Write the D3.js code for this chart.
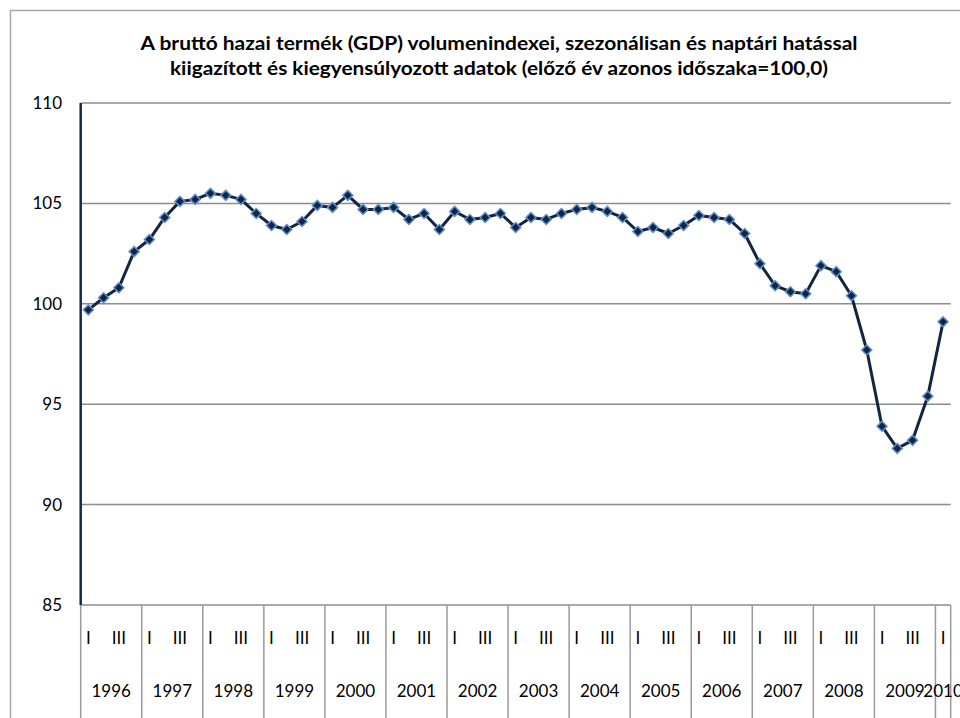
<!DOCTYPE html>
<html>
<head>
<meta charset="utf-8">
<script src="https://cdn.jsdelivr.net/npm/d3@7"></script>
<style>
  body { margin: 0; background: #fff; }
  svg { display: block; font-family: Lato, "Open Sans", sans-serif; }
</style>
</head>
<body>
<div id="chart"></div>
<script>
// chart data
const years = ['1996', '1997', '1998', '1999', '2000', '2001', '2002',
               '2003', '2004', '2005', '2006', '2007', '2008', '2009', '2010'];
const quarterNames = ['I', 'II', 'III', 'IV'];
const quarterShown = ['I', 'III'];
const values = [
    99.7, 100.3, 100.8, 102.6,   // 1996
    103.2, 104.3, 105.1, 105.2,  // 1997
    105.5, 105.4, 105.2, 104.5,  // 1998
    103.9, 103.7, 104.1, 104.9,  // 1999
    104.8, 105.4, 104.7, 104.7,  // 2000
    104.8, 104.2, 104.5, 103.7,  // 2001
    104.6, 104.2, 104.3, 104.5,  // 2002
    103.8, 104.3, 104.2, 104.5,  // 2003
    104.7, 104.8, 104.6, 104.3,  // 2004
    103.6, 103.8, 103.5, 103.9,  // 2005
    104.4, 104.3, 104.2, 103.5,  // 2006
    102.0, 100.9, 100.6, 100.5,  // 2007
    101.9, 101.6, 100.4, 97.7,   // 2008
    93.9, 92.8, 93.2, 95.4,      // 2009
    99.1                         // 2010
];
const yTicks = [85, 90, 95, 100, 105, 110];
const titleLines = [
    'A bruttó hazai termék (GDP) volumenindexei, szezonálisan és naptári hatással',
    'kiigazított és kiegyensúlyozott adatok (előző év azonos időszaka=100,0)'
];

// setup
const width = 960, height = 718;
const plot = { left: 80.7, right: 950.7, top: 103, bottom: 605 };

// one entry per quarter
const quarters = values.map((v, i) => ({
    key: i,
    year: years[Math.floor(i / 4)],
    q: quarterNames[i % 4],
    value: v
}));

const x = d3.scaleBand()
    .domain(quarters.map(d => d.key))
    .range([plot.left, plot.right])
    .padding(0);

const y = d3.scaleLinear()
    .domain([85, 110])
    .range([plot.bottom, plot.top]);

const svg = d3.select('#chart')
    .append('svg')
      .attr('width', width)
      .attr('height', height);

// outer chart frame
svg.append('rect')
    .attr('x', 10.5)
    .attr('y', 10.5)
    .attr('width', width + 20)
    .attr('height', height + 20)
    .style('fill', 'none')
    .style('stroke', '#a6a6a6')
    .style('stroke-width', 1.5);

// title
svg.selectAll('.title')
    .data(titleLines)
    .enter()
    .append('text')
      .attr('class', 'title')
      .attr('x', 499)
      .attr('y', (d, i) => 50 + i * 25)
      .attr('text-anchor', 'middle')
      .attr('textLength', (d, i) => i === 0 ? 717 : 658)
      .attr('lengthAdjust', 'spacingAndGlyphs')
      .style('font-size', '18.5px')
      .style('font-weight', 'bold')
      .style('fill', '#000')
      .text(d => d);

// horizontal gridlines
svg.selectAll('.grid')
    .data(yTicks)
    .enter()
    .append('line')
      .attr('class', 'grid')
      .attr('x1', plot.left)
      .attr('x2', plot.right)
      .attr('y1', d => y(d))
      .attr('y2', d => y(d))
      .style('stroke', '#8c8c8c')
      .style('stroke-width', 1.5);

// y tick labels
svg.selectAll('.ylabel')
    .data(yTicks)
    .enter()
    .append('text')
      .attr('class', 'ylabel')
      .attr('x', 62)
      .attr('y', d => y(d) + 6)
      .attr('text-anchor', 'end')
      .style('font-size', '17px')
      .style('fill', '#000')
      .text(d => d);

// year dividers below the plot (start of every year + right end)
const yearStarts = quarters.filter(d => d.q === 'I').map(d => x(d.key));
yearStarts.push(plot.right);

svg.selectAll('.divider')
    .data(yearStarts)
    .enter()
    .append('line')
      .attr('class', 'divider')
      .attr('x1', d => d)
      .attr('x2', d => d)
      .attr('y1', plot.bottom)
      .attr('y2', height)
      .style('stroke', '#9a9a9a')
      .style('stroke-width', 1.5);

// quarter labels, only I and III fit
svg.selectAll('.qlabel')
    .data(quarters.filter(d => quarterShown.includes(d.q)))
    .enter()
    .append('text')
      .attr('class', 'qlabel')
      .attr('x', d => x(d.key) + x.bandwidth() / 2)
      .attr('y', 644)
      .attr('text-anchor', 'middle')
      .style('font-size', '17px')
      .style('fill', '#000')
      .text(d => d.q);

// year labels centred in their span
const yearGroups = d3.groups(quarters, d => d.year);
svg.selectAll('.yearlabel')
    .data(yearGroups)
    .enter()
    .append('text')
      .attr('class', 'yearlabel')
      .attr('x', d => {
          const first = d[1][0].key, last = d[1][d[1].length - 1].key;
          return (x(first) + x(last) + x.bandwidth()) / 2;
      })
      .attr('y', 697)
      .attr('text-anchor', 'middle')
      .style('font-size', '17px')
      .style('fill', '#000')
      .text(d => d[0]);

// left value axis
svg.append('line')
    .attr('x1', plot.left)
    .attr('x2', plot.left)
    .attr('y1', plot.top)
    .attr('y2', plot.bottom)
    .style('stroke', '#17284a')
    .style('stroke-width', 2.5);

// series line
const line = d3.line()
    .x(d => x(d.key) + x.bandwidth() / 2)
    .y(d => y(d.value));

svg.append('path')
    .datum(quarters)
    .attr('d', line)
    .style('fill', 'none')
    .style('stroke', '#132540')
    .style('stroke-width', 3)
    .style('stroke-linejoin', 'round');

// diamond markers
const diamond = d3.symbol().type(d3.symbolSquare).size(50);

svg.selectAll('.marker')
    .data(quarters)
    .enter()
    .append('path')
      .attr('class', 'marker')
      .attr('d', diamond)
      .attr('transform', d => `translate(${x(d.key) + x.bandwidth() / 2}, ${y(d.value)}) rotate(45)`)
      .style('fill', '#132540')
      .style('stroke', '#5b8fd0')
      .style('stroke-width', 1.5);
</script>
</body>
</html>
